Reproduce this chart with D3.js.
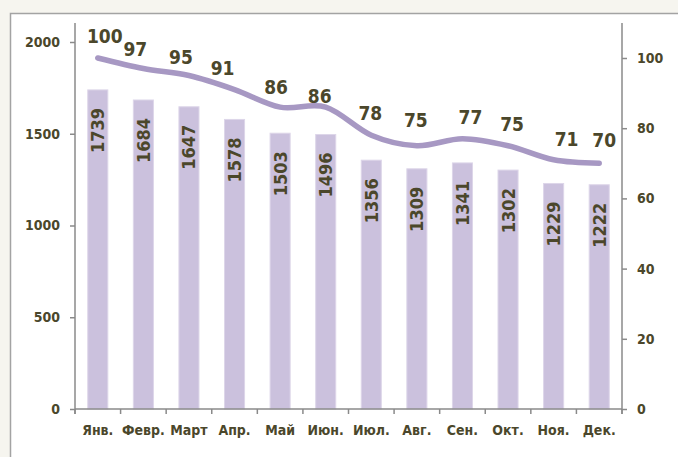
<!DOCTYPE html>
<html>
<head>
<meta charset="utf-8">
<script src="https://cdn.jsdelivr.net/npm/d3@7"></script>
<style>
  html, body { margin: 0; padding: 0; background: #f6f5ef; }
  svg { display: block; }
  text { font-family: "DejaVu Sans Condensed", "DejaVu Sans", sans-serif; font-stretch: condensed; font-weight: bold; fill: #4b472b; }
</style>
</head>
<body>
<svg id="chart" width="678" height="457"></svg>
<script>
// ----------------------------
// Data
// ----------------------------
const months = ['Янв.', 'Февр.', 'Март', 'Апр.', 'Май', 'Июн.', 'Июл.', 'Авг.', 'Сен.', 'Окт.', 'Ноя.', 'Дек.'];
const counts = [1739, 1684, 1647, 1578, 1503, 1496, 1356, 1309, 1341, 1302, 1229, 1222];
const index = [100, 97, 95, 91, 86, 86, 78, 75, 77, 75, 71, 70];
const leftTicks = [0, 500, 1000, 1500, 2000];
const rightTicks = [0, 20, 40, 60, 80, 100];

// manual label nudges (like hand-placed labels in the original), px
const labelNudgeX = [7, -8, -8, -12, -4, -6, -1, -1, 8, 4, 13, 5];
const labelNudgeY = [-1, 2, 3, 0, 1, 10, -1, -5, -1, -1, 0, -2];

(function () {
  'use strict';

  const svg = d3.select('#chart');

  // panel
  svg.append('rect')
    .attr('x', 10.5).attr('y', 13.5)
    .attr('width', 700).attr('height', 460)
    .attr('fill', '#fff')
    .attr('stroke', '#a3a3a3')
    .attr('stroke-width', 1.5);

  const left = 75, right = 622, bottom = 409, top = 23;

  const x = d3.scaleBand().domain(months).range([left, right]).paddingInner(0.56).paddingOuter(0.28);
  const yL = d3.scaleLinear().domain([0, 2000]).range([bottom, 42]);
  const yR = d3.scaleLinear().domain([0, 100]).range([bottom, 58]);

  // ----------------------------
  // Bars
  // ----------------------------
  svg.append('g')
    .selectAll('rect')
    .data(counts)
    .enter()
    .append('rect')
    .attr('x', (d, i) => x(months[i]))
    .attr('y', d => yL(d))
    .attr('width', x.bandwidth())
    .attr('height', d => bottom - yL(d))
    .attr('fill', '#cbc1dd')
    .attr('stroke', '#ddd6e9')
    .attr('stroke-width', 1);

  // bar labels (rotated, inside end)
  svg.append('g')
    .selectAll('text')
    .data(counts)
    .enter()
    .append('text')
    .attr('transform', (d, i) => `translate(${x(months[i]) + x.bandwidth() / 2}, ${yL(d) + 18}) rotate(-90)`)
    .attr('text-anchor', 'end')
    .attr('dy', '0.36em')
    .attr('font-size', '18px')
    .text(d => d);

  // ----------------------------
  // Axes
  // ----------------------------
  const axisColor = '#8a8a8a';

  const axisL = svg.append('g').attr('transform', `translate(${left},0)`)
    .call(d3.axisLeft(yL).tickValues(leftTicks).tickFormat(d3.format('d')).tickSize(5).tickPadding(10));
  const axisR = svg.append('g').attr('transform', `translate(${right},0)`)
    .call(d3.axisRight(yR).tickValues(rightTicks).tickFormat(d3.format('d')).tickSize(5).tickPadding(10));

  [axisL, axisR].forEach(g => {
    g.select('.domain').remove();
    g.selectAll('line').attr('stroke', axisColor).attr('stroke-width', 1.5);
    g.selectAll('text').attr('font-size', '14px').attr('fill', '#4b472b')
      .attr('font-family', '"DejaVu Sans Condensed", "DejaVu Sans", sans-serif');
    g.append('line').attr('x1', 0).attr('x2', 0).attr('y1', top).attr('y2', bottom + 5)
      .attr('stroke', axisColor).attr('stroke-width', 1.5);
  });

  // x axis
  const xAxis = svg.append('g');
  xAxis.append('line')
    .attr('x1', left).attr('x2', right).attr('y1', bottom).attr('y2', bottom)
    .attr('stroke', axisColor).attr('stroke-width', 1.5);
  xAxis.selectAll('.xtick')
    .data(d3.range(months.length + 1))
    .enter()
    .append('line')
    .attr('x1', i => left + i * (right - left) / months.length)
    .attr('x2', i => left + i * (right - left) / months.length)
    .attr('y1', bottom).attr('y2', bottom + 5)
    .attr('stroke', axisColor).attr('stroke-width', 1.5);
  xAxis.selectAll('.xlabel')
    .data(months)
    .enter()
    .append('text')
    .attr('x', d => x(d) + x.bandwidth() / 2)
    .attr('y', 435)
    .attr('text-anchor', 'middle')
    .attr('font-size', '14px')
    .text(d => d);

  // ----------------------------
  // Line (smoothed)
  // ----------------------------
  const cx = i => x(months[i]) + x.bandwidth() / 2;
  const line = d3.line()
    .x((d, i) => cx(i))
    .y(d => yR(d))
    .curve(d3.curveCardinal.tension(0));

  svg.append('path')
    .datum(index)
    .attr('d', line)
    .attr('fill', 'none')
    .attr('stroke', '#a798c3')
    .attr('stroke-width', 5.5)
    .attr('stroke-linecap', 'round');

  svg.append('g')
    .selectAll('text')
    .data(index)
    .enter()
    .append('text')
    .attr('x', (d, i) => cx(i) + labelNudgeX[i])
    .attr('y', (d, i) => yR(d) - 21 + labelNudgeY[i])
    .attr('dy', '0.36em')
    .attr('text-anchor', 'middle')
    .attr('font-size', '19px')
    .text(d => d);
})();
</script>
</body>
</html>
